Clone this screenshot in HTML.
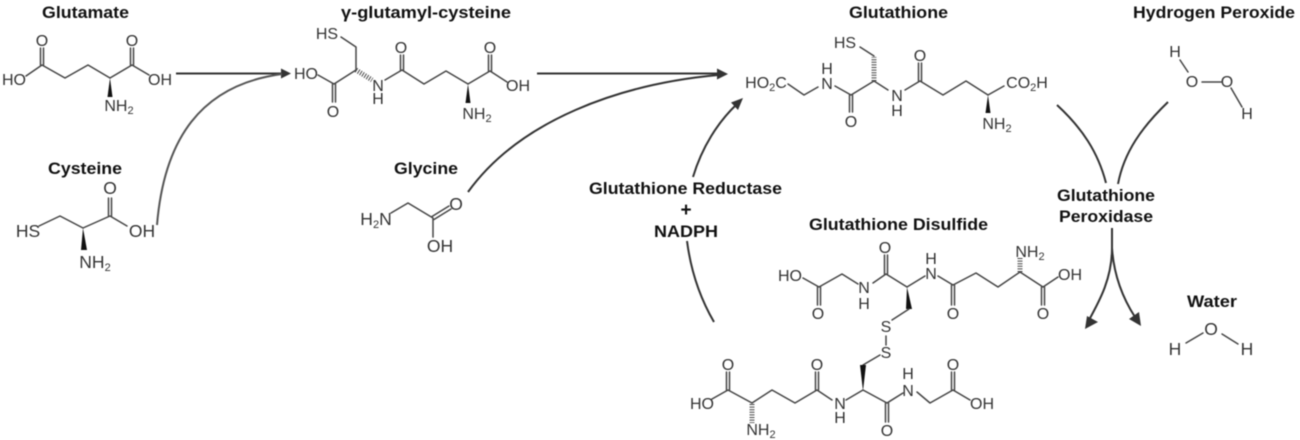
<!DOCTYPE html>
<html>
<head>
<meta charset="utf-8">
<style>
html,body{margin:0;padding:0;background:#fff;width:1300px;height:440px;overflow:hidden}
svg{display:block;filter:blur(0.5px)}
.t{font:bold 17px "Liberation Sans",sans-serif;fill:#111;text-anchor:middle}
.a{font:16px "Liberation Sans",sans-serif;fill:#333;text-anchor:middle}
.l{font-size:17.5px}
.s{font-size:11px}
.b{stroke:#444;stroke-width:1.5;fill:none;stroke-linecap:round;stroke-linejoin:round}
.w{fill:#111;stroke:none}
.h{stroke:#444;stroke-width:5;stroke-dasharray:1 1.6;fill:none}
.c{stroke:#333;stroke-width:2;fill:none}
.g{stroke:#555;stroke-width:2;fill:none}
.p{fill:#333;stroke:none}
</style>
</head>
<body>
<svg width="1300" height="440" viewBox="0 0 1300 440" xmlns="http://www.w3.org/2000/svg">
<!-- Titles -->
<text class="t" x="85.500" y="18" textLength="87" lengthAdjust="spacingAndGlyphs">Glutamate</text>
<text class="t" x="85" y="174" textLength="74" lengthAdjust="spacingAndGlyphs">Cysteine</text>
<text class="t" x="426" y="18" textLength="170" lengthAdjust="spacingAndGlyphs">γ-glutamyl-cysteine</text>
<text class="t" x="426" y="174" textLength="64" lengthAdjust="spacingAndGlyphs">Glycine</text>
<text class="t" x="898.500" y="18" textLength="99" lengthAdjust="spacingAndGlyphs">Glutathione</text>
<text class="t" x="1214" y="18" textLength="162" lengthAdjust="spacingAndGlyphs">Hydrogen Peroxide</text>
<text class="t" x="1106" y="201" textLength="98" lengthAdjust="spacingAndGlyphs">Glutathione</text>
<text class="t" x="1106" y="222" textLength="94" lengthAdjust="spacingAndGlyphs">Peroxidase</text>
<text class="t" x="1212" y="307" textLength="50" lengthAdjust="spacingAndGlyphs">Water</text>
<text class="t" x="898.500" y="230" textLength="179" lengthAdjust="spacingAndGlyphs">Glutathione Disulfide</text>
<text class="t" x="685.500" y="194" textLength="193" lengthAdjust="spacingAndGlyphs">Glutathione Reductase</text>
<text class="t" x="686" y="216" style="font-size:19px">+</text>
<text class="t" x="686" y="237" textLength="64" lengthAdjust="spacingAndGlyphs">NADPH</text>

<!-- Connectors -->
<path class="c" d="M176 73.500H282"/>
<path class="p" d="M291 73.500L281 68.500V78.500Z"/>
<path class="g" d="M157 225C164 140 200 85 282 74"/>
<path class="c" d="M537 73.500H719"/>
<path class="p" d="M728 74L717 68.500V79.500Z"/>
<path class="c" d="M468 192C520 120 620 84 718 75"/>
<path class="c" d="M693 177C702 147 718 122 737 104"/>
<path class="p" d="M743 98L731 102.500L738 110Z"/>
<path class="c" d="M687 241C691 272 700 298 714 322"/>
<path class="c" d="M1057 105C1082 128 1098 152 1106 183"/>
<path class="c" d="M1168 102C1142 127 1124 152 1118 184"/>
<path class="c" d="M1112 228V248C1112 278 1100 300 1089 320"/>
<path class="c" d="M1112 248C1114 278 1124 300 1135 317"/>
<path class="p" d="M1085 329L1098 322L1087 316Z"/>
<path class="p" d="M1141 326L1139 312L1129 319Z"/>

<!-- Glutamate -->
<path class="b" d="M26 76L42 65L65 78L88 65L110 78L132 65L149 75"/>
<path class="b" d="M40.500 65V48M43.500 65V48M130.500 65V48M133.500 65V48"/>
<path class="w" d="M110 78L107.500 97H112.500Z"/>
<text class="a" x="14" y="85">HO</text>
<text class="a" x="42" y="46">O</text>
<text class="a" x="132" y="46">O</text>
<text class="a" x="160" y="85">OH</text>
<text class="a" x="119" y="111">NH<tspan class="s" dy="3">2</tspan></text>

<!-- Cysteine -->
<path class="b" d="M39 226L60 216L83 228L110 216L127 226"/>
<path class="b" d="M108.500 216V198M111.500 216V198"/>
<path class="w" d="M83 228L81 250H87Z"/>
<text class="a l" x="28" y="237">HS</text>
<text class="a l" x="110" y="194">O</text>
<text class="a l" x="142" y="237">OH</text>
<text class="a l" x="95" y="268">NH<tspan class="s" dy="3">2</tspan></text>

<!-- gamma-glutamyl-cysteine -->
<path class="b" d="M341 37L356 47V70L334 84L318 75"/>
<path class="b" d="M332.500 84V102M335.500 84V102"/>
<path class="h" d="M356 70L372 80"/>
<path class="b" d="M385 80L402 70L424 84L446 71L468 84L490 71L507 82"/>
<path class="b" d="M400.500 70V55M403.500 70V55M488.500 71V55M491.500 71V55"/>
<path class="w" d="M468 84L465.500 103H470.500Z"/>
<text class="a" x="327" y="39">HS</text>
<text class="a" x="306" y="79">HO</text>
<text class="a" x="333" y="117">O</text>
<text class="a" x="378" y="91">N</text>
<text class="a" x="378" y="104">H</text>
<text class="a" x="401" y="53">O</text>
<text class="a" x="490" y="53">O</text>
<text class="a" x="518" y="91">OH</text>
<text class="a" x="477" y="119">NH<tspan class="s" dy="3">2</tspan></text>

<!-- Glycine -->
<path class="b" d="M391 213L408 203L433 218V237"/>
<path class="b" d="M432 216.500L449 206M434 219.500L451 209"/>
<text class="a l" x="376" y="225">H<tspan class="s" dy="3">2</tspan><tspan dy="-3">N</tspan></text>
<text class="a l" x="456" y="210">O</text>
<text class="a l" x="440" y="252">OH</text>

<!-- Glutathione -->
<path class="b" d="M788 84L804 95L818 87M835 86L851 95L874 81L888 90"/>
<path class="b" d="M849.500 95V112M852.500 95V112"/>
<path class="h" d="M874 81V57"/>
<path class="b" d="M874 56L860 47"/>
<path class="b" d="M905 90L920 81L943 95L966 81L988 95L1004 86"/>
<path class="b" d="M918.500 81V63M921.500 81V63"/>
<path class="w" d="M988 95L985.500 113H990.500Z"/>
<text class="a" x="766" y="88">HO<tspan class="s" dy="3">2</tspan><tspan dy="-3">C</tspan></text>
<text class="a" x="827" y="89">N</text>
<text class="a" x="827" y="74">H</text>
<text class="a" x="851" y="127">O</text>
<text class="a" x="845" y="48">HS</text>
<text class="a" x="897" y="101">N</text>
<text class="a" x="897" y="116">H</text>
<text class="a" x="920" y="61">O</text>
<text class="a" x="1027" y="88">CO<tspan class="s" dy="3">2</tspan><tspan dy="-3">H</tspan></text>
<text class="a" x="997" y="129">NH<tspan class="s" dy="3">2</tspan></text>

<!-- Hydrogen peroxide -->
<path class="b" d="M1180 60L1188 72M1202 82H1221M1231 88L1242 107"/>
<text class="a" x="1175" y="57">H</text>
<text class="a" x="1192" y="87">O</text>
<text class="a" x="1227" y="87">O</text>
<text class="a" x="1247" y="119">H</text>

<!-- Water -->
<path class="b" d="M1186 343L1203 333M1222 334L1238 344"/>
<text class="a l" x="1211" y="335">O</text>
<text class="a l" x="1175" y="355">H</text>
<text class="a l" x="1247" y="355">H</text>

<!-- GSSG top -->
<path class="b" d="M803 278L819 287L842 274L858 284M873 283L886 274L907 287L925 276M938 276L953 285L976 273L998 287L1020 272L1043 287L1058 277"/>
<path class="b" d="M817.500 287V305M820.500 287V305M884.500 274V255M887.500 274V255M951.500 285V305M954.500 285V305M1041.500 287V305M1044.500 287V305"/>
<path class="w" d="M907 287L906 309H912Z"/>
<path class="b" d="M909 309L892 320"/>
<path class="h" d="M1020 272V258"/>
<text class="a" x="790" y="281">HO</text>
<text class="a" x="818" y="319">O</text>
<text class="a" x="864" y="293">N</text>
<text class="a" x="864" y="309">H</text>
<text class="a" x="885" y="253">O</text>
<text class="a" x="931" y="279">N</text>
<text class="a" x="931" y="264">H</text>
<text class="a" x="953" y="319">O</text>
<text class="a" x="1043" y="319">O</text>
<text class="a" x="1070" y="280">OH</text>
<text class="a" x="1030" y="257">NH<tspan class="s" dy="3">2</tspan></text>
<text class="a" x="886" y="332">S</text>

<!-- S-S -->
<path class="b" d="M886 336V345"/>
<text class="a" x="886" y="358">S</text>

<!-- GSSG bottom -->
<path class="b" d="M880 355L863 365"/>
<path class="w" d="M863 391L860 365H866Z"/>
<path class="b" d="M712 399L728 390L752 403L772 390L795 403L817 390L832 400M846 400L863 390L887 403L903 393M917 392L930 403L953 390L970 400"/>
<path class="b" d="M726.500 390V372M729.500 390V372M815.500 390V372M818.500 390V372M885.500 403V422M888.500 403V422M951.500 390V372M954.500 390V372"/>
<path class="h" d="M752 404V423"/>
<text class="a" x="702" y="409">HO</text>
<text class="a" x="728" y="370">O</text>
<text class="a" x="817" y="370">O</text>
<text class="a" x="840" y="409">N</text>
<text class="a" x="840" y="423">H</text>
<text class="a" x="887" y="436">O</text>
<text class="a" x="908" y="396">N</text>
<text class="a" x="908" y="379">H</text>
<text class="a" x="953" y="370">O</text>
<text class="a" x="982" y="409">OH</text>
<text class="a" x="761" y="435">NH<tspan class="s" dy="3">2</tspan></text>
</svg>
</body>
</html>
